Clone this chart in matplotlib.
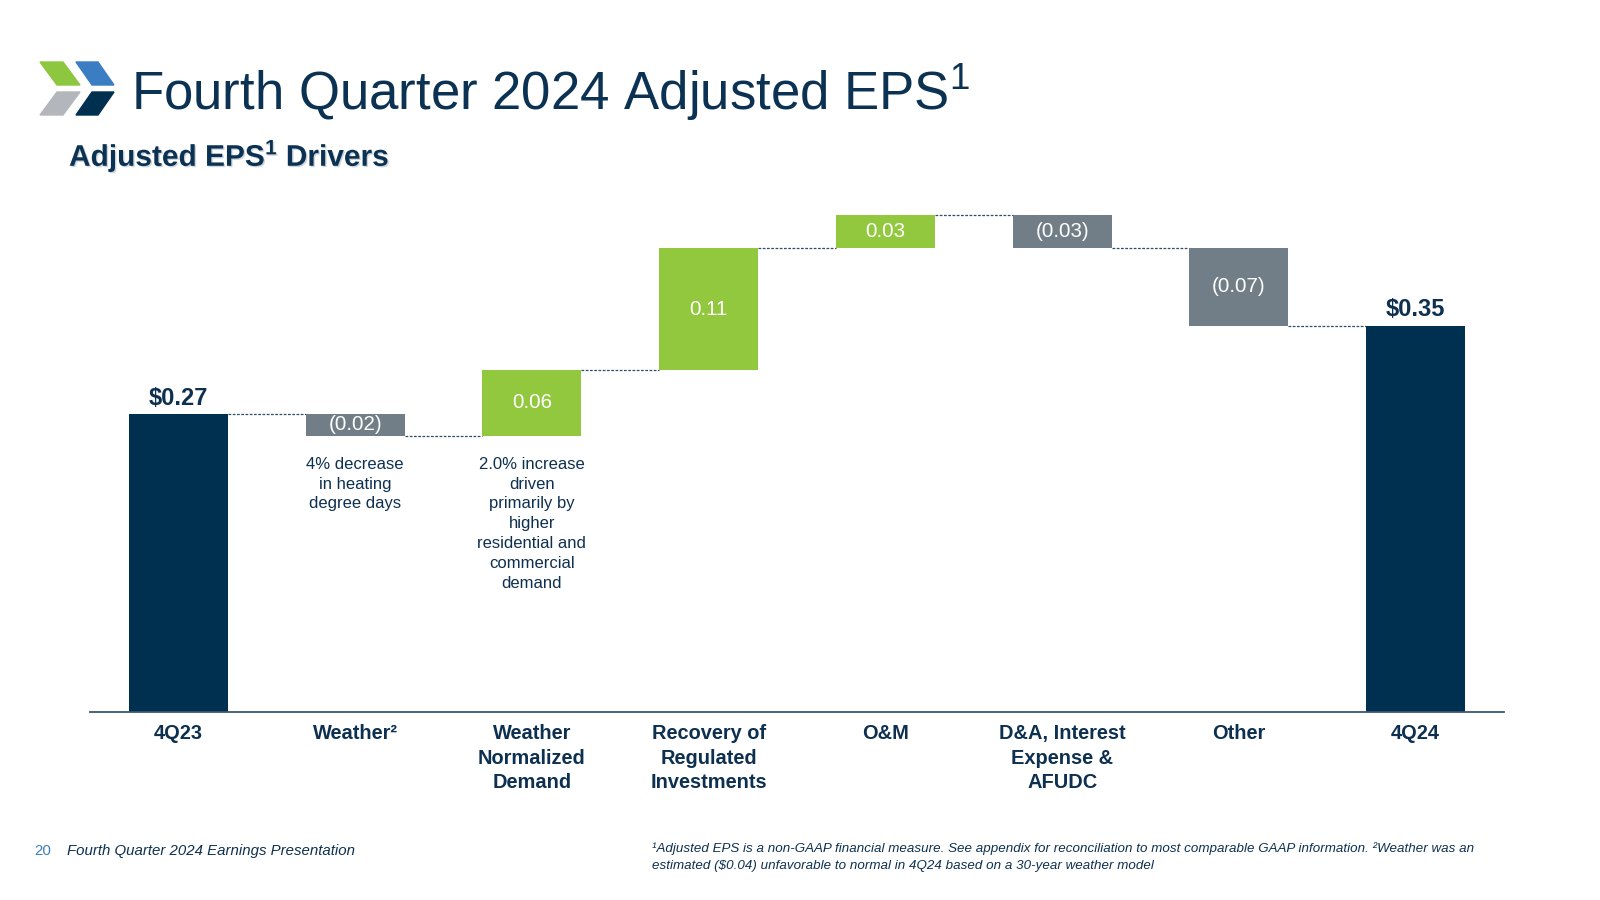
import matplotlib.pyplot as plt
from matplotlib.patches import Polygon
import matplotlib.patheffects as pe

plt.rcParams['font.family'] = ['Liberation Sans', 'DejaVu Sans']
plt.rcParams['mathtext.fontset'] = 'custom'
plt.rcParams['mathtext.rm'] = 'Liberation Sans'
plt.rcParams['mathtext.bf'] = 'Liberation Sans:bold'

# Data
categories = ["4Q23", "Weather\u00b2", "Weather\nNormalized\nDemand", "Recovery of\nRegulated\nInvestments",
              "O&M", "D&A, Interest\nExpense &\nAFUDC", "Other", "4Q24"]
values = [0.27, -0.02, 0.06, 0.11, 0.03, -0.03, -0.07, 0.35]
value_labels = ["$0.27", "(0.02)", "0.06", "0.11", "0.03", "(0.03)", "(0.07)", "$0.35"]
notes = {1: "4% decrease\nin heating\ndegree days",
         2: "2.0% increase\ndriven\nprimarily by\nhigher\nresidential and\ncommercial\ndemand"}

NAVY = '#00304F'
GREEN = '#92C83E'
GRAY = '#717E88'
TEXT = '#0D3050'

fig = plt.figure(figsize=(16, 9), dpi=100)
ax = fig.add_axes([0.05625, 0.2089, 0.88375, 0.5911])

# waterfall
width = 0.56
level = 0.0
tops = []
for i, v in enumerate(values):
    if i == 0 or i == len(values) - 1:
        bottom, h, color = 0, v, NAVY
        level = v
    else:
        bottom = level if v > 0 else level + v
        h, color = abs(v), (GREEN if v > 0 else GRAY)
        level = level + v
    ax.bar(i, h, bottom=bottom, width=width, color=color, zorder=2)
    tops.append((bottom, bottom + h))
    if i == 0 or i == len(values) - 1:
        ax.annotate(value_labels[i], (i, bottom + h), xytext=(0, 3), textcoords='offset points',
                    ha='center', va='bottom', fontsize=17, fontweight='bold', color=TEXT)
    else:
        ax.text(i, bottom + h / 2, value_labels[i], ha='center', va='center',
                fontsize=14.8, color='white', zorder=3)
    # connector to next bar
    if i < len(values) - 1:
        ax.plot([i + width / 2, i + 1 - width / 2], [level, level], color='#2F4E68',
                lw=0.9, ls=(0, (2.2, 1.2)), zorder=1)

# notes under bars
for i, txt in notes.items():
    ax.annotate(txt, (i, tops[i][0]), xytext=(0, -15), textcoords='offset points',
                ha='center', va='top', fontsize=12, color=TEXT, linespacing=1.4)

ax.set_xlim(-0.5, len(values) - 0.5)
ax.set_ylim(0, 0.4819)
ax.set_xticks(range(len(categories)))
ax.set_xticklabels(categories, fontsize=14.4, fontweight='bold', color=TEXT, linespacing=1.34, va='top')
ax.tick_params(axis='x', length=0, pad=9)
ax.set_yticks([])
for s in ['top', 'left', 'right']:
    ax.spines[s].set_visible(False)
ax.spines['bottom'].set_color('#3B5770')
ax.spines['bottom'].set_linewidth(1.3)

# logo (figure pixel coords, y from top)
def px(pts):
    return [(x / 1600, 1 - y / 900) for x, y in pts]

logo = [
    ([(40, 62), (63, 62), (80, 85), (57, 85)], '#8DC63F'),
    ([(76, 62), (98, 62), (114, 85), (92, 85)], '#3A7DC2'),
    ([(57, 92), (80, 92), (63, 115), (40, 115)], '#B3B7BC'),
    ([(92, 92), (114, 92), (98, 115), (76, 115)], '#00304F'),
]
for pts, c in logo:
    fig.patches.append(Polygon(px(pts), closed=True, transform=fig.transFigure, color=c))

fig.text(131 / 1600, 1 - 92 / 900, "Fourth Quarter 2024 Adjusted EPS$^1$", fontsize=38,
         color='#0B3252', va='center', ha='left')
fig.text(69 / 1600, 1 - 156 / 900, r"Adjusted EPS$^{\mathbf{1}}$ Drivers", fontsize=21.5, fontweight='bold',
         color='#0B3252', va='center', ha='left',
         path_effects=[pe.withSimplePatchShadow(offset=(1, -1), shadow_rgbFace='#7A8A99', alpha=0.35)])

# footer
fig.text(34 / 1600, 1 - 851 / 900, "20", fontsize=10.8, color='#3D7EC0', va='center')
fig.text(67 / 1600, 1 - 851 / 900, "Fourth Quarter 2024 Earnings Presentation", fontsize=10.8,
         style='italic', color=TEXT, va='center')
fig.text(652 / 1600, 1 - 849 / 900,
         "\u00b9Adjusted EPS is a non-GAAP financial measure. See appendix for reconciliation to most comparable GAAP information. \u00b2Weather was an",
         fontsize=9.6, style='italic', color=TEXT, va='center')
fig.text(652 / 1600, 1 - 866 / 900,
         "estimated ($0.04) unfavorable to normal in 4Q24 based on a 30-year weather model",
         fontsize=9.6, style='italic', color=TEXT, va='center')

fig.savefig('out.png', dpi=100)
